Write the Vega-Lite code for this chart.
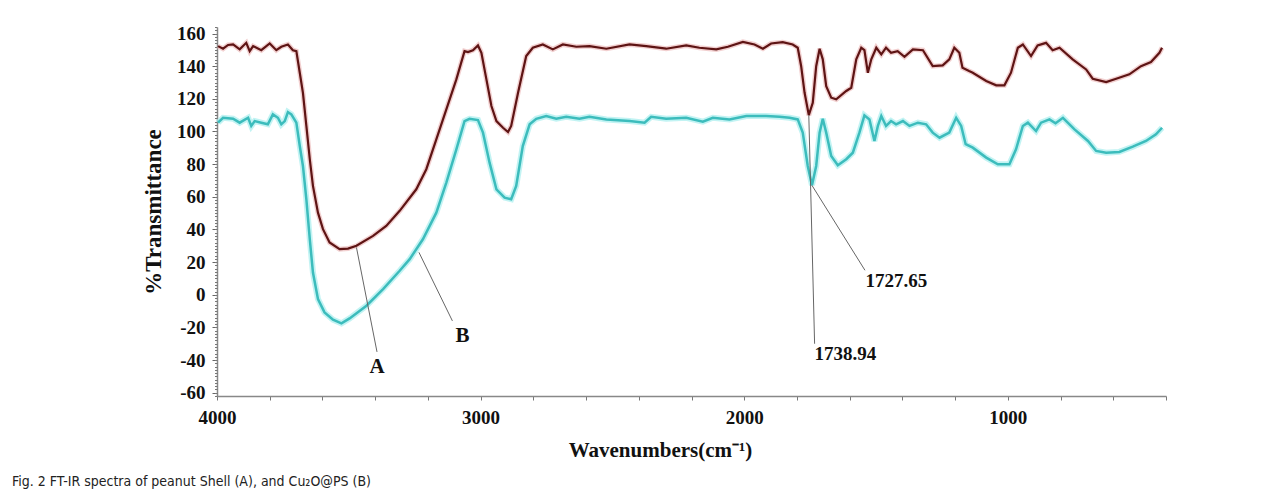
{
  "$schema": "https://vega.github.io/schema/vega-lite/v6.json",
  "width": 949,
  "height": 369,
  "autosize": {"type": "none"},
  "padding": {"left": 217, "top": 27, "right": 118, "bottom": 104},
  "background": "white",
  "config": {
    "view": {"stroke": null},
    "font": "Liberation Serif"
  },
  "title": {
    "text": "Fig. 2  FT-IR spectra of peanut Shell (A), and Cu₂O@PS (B)",
    "orient": "bottom",
    "anchor": "start",
    "frame": "group",
    "dx": -205,
    "offset": 15,
    "font": "DejaVu Sans Condensed, sans-serif",
    "fontSize": 14,
    "fontWeight": "normal",
    "color": "#222222"
  },
  "datasets": {
    "A": [
      {"wn": 3996, "t": 152.3}, {"wn": 3977, "t": 150.7}, {"wn": 3958, "t": 153}, {"wn": 3939, "t": 153.3},
      {"wn": 3914, "t": 150.3}, {"wn": 3889, "t": 154.3}, {"wn": 3876, "t": 149.2}, {"wn": 3863, "t": 152.3},
      {"wn": 3832, "t": 149.8}, {"wn": 3800, "t": 153.9}, {"wn": 3775, "t": 149.8}, {"wn": 3756, "t": 151.9},
      {"wn": 3731, "t": 153.3}, {"wn": 3712, "t": 149.8}, {"wn": 3699, "t": 149.2}, {"wn": 3686, "t": 136},
      {"wn": 3674, "t": 123.7}, {"wn": 3661, "t": 103.4}, {"wn": 3648, "t": 83}, {"wn": 3636, "t": 66.7},
      {"wn": 3617, "t": 50.3}, {"wn": 3598, "t": 40.2}, {"wn": 3573, "t": 32}, {"wn": 3535, "t": 27.9},
      {"wn": 3503, "t": 28.3}, {"wn": 3471, "t": 30}, {"wn": 3408, "t": 36.1}, {"wn": 3358, "t": 42.2},
      {"wn": 3307, "t": 51.4}, {"wn": 3244, "t": 64.6}, {"wn": 3206, "t": 76.9}, {"wn": 3168, "t": 95.2},
      {"wn": 3130, "t": 113.6}, {"wn": 3092, "t": 131.9}, {"wn": 3061, "t": 149.2}, {"wn": 3048, "t": 148.6},
      {"wn": 3029, "t": 149.8}, {"wn": 3010, "t": 152.7}, {"wn": 2997, "t": 148.2}, {"wn": 2978, "t": 131.9},
      {"wn": 2959, "t": 115.6}, {"wn": 2940, "t": 106.4}, {"wn": 2915, "t": 102.3}, {"wn": 2896, "t": 99.7},
      {"wn": 2884, "t": 103.4}, {"wn": 2858, "t": 123.7}, {"wn": 2827, "t": 146.2}, {"wn": 2802, "t": 151.3},
      {"wn": 2764, "t": 153.3}, {"wn": 2726, "t": 150.3}, {"wn": 2688, "t": 153.3}, {"wn": 2637, "t": 151.9},
      {"wn": 2587, "t": 152.3}, {"wn": 2523, "t": 150.7}, {"wn": 2435, "t": 153.3}, {"wn": 2372, "t": 152.3},
      {"wn": 2296, "t": 150.7}, {"wn": 2220, "t": 152.7}, {"wn": 2170, "t": 151.3}, {"wn": 2106, "t": 150.3},
      {"wn": 2062, "t": 151.9}, {"wn": 2005, "t": 154.9}, {"wn": 1961, "t": 153.3}, {"wn": 1929, "t": 150.7},
      {"wn": 1898, "t": 153.9}, {"wn": 1854, "t": 154.7}, {"wn": 1816, "t": 153.3}, {"wn": 1797, "t": 151.3},
      {"wn": 1784, "t": 140}, {"wn": 1771, "t": 123.7}, {"wn": 1755, "t": 110}, {"wn": 1740, "t": 117.6},
      {"wn": 1727, "t": 140}, {"wn": 1714, "t": 150.7}, {"wn": 1702, "t": 144.2}, {"wn": 1689, "t": 127.8},
      {"wn": 1670, "t": 120.7}, {"wn": 1651, "t": 119.7}, {"wn": 1613, "t": 124.8}, {"wn": 1594, "t": 126.8},
      {"wn": 1575, "t": 144.2}, {"wn": 1556, "t": 151.3}, {"wn": 1544, "t": 149.8}, {"wn": 1531, "t": 136},
      {"wn": 1518, "t": 144.2}, {"wn": 1499, "t": 151.3}, {"wn": 1480, "t": 147.2}, {"wn": 1462, "t": 151.3},
      {"wn": 1443, "t": 148.2}, {"wn": 1418, "t": 149.2}, {"wn": 1392, "t": 145.7}, {"wn": 1360, "t": 150.3},
      {"wn": 1322, "t": 149.8}, {"wn": 1285, "t": 140}, {"wn": 1247, "t": 140.5}, {"wn": 1222, "t": 144.2},
      {"wn": 1203, "t": 151.3}, {"wn": 1184, "t": 148.2}, {"wn": 1172, "t": 139}, {"wn": 1147, "t": 137},
      {"wn": 1133, "t": 136}, {"wn": 1082, "t": 130.9}, {"wn": 1044, "t": 128.3}, {"wn": 1013, "t": 128.3},
      {"wn": 988, "t": 136}, {"wn": 962, "t": 151.3}, {"wn": 943, "t": 153.3}, {"wn": 912, "t": 146.2},
      {"wn": 887, "t": 152.7}, {"wn": 855, "t": 154.3}, {"wn": 830, "t": 149.8}, {"wn": 804, "t": 151.3},
      {"wn": 754, "t": 144.2}, {"wn": 703, "t": 138}, {"wn": 678, "t": 132.3}, {"wn": 627, "t": 130.3},
      {"wn": 589, "t": 132.3}, {"wn": 539, "t": 135}, {"wn": 495, "t": 140}, {"wn": 457, "t": 142.5},
      {"wn": 425, "t": 148.2}, {"wn": 415, "t": 151.3}
    ],
    "B": [
      {"wn": 3996, "t": 105.4}, {"wn": 3977, "t": 108.4}, {"wn": 3939, "t": 107.8}, {"wn": 3914, "t": 105.4},
      {"wn": 3882, "t": 108.4}, {"wn": 3870, "t": 103.4}, {"wn": 3857, "t": 106.4}, {"wn": 3832, "t": 105.4},
      {"wn": 3807, "t": 104.4}, {"wn": 3788, "t": 110.5}, {"wn": 3769, "t": 108.4}, {"wn": 3756, "t": 104.4},
      {"wn": 3743, "t": 106.4}, {"wn": 3731, "t": 111.9}, {"wn": 3718, "t": 110.5}, {"wn": 3699, "t": 105.4},
      {"wn": 3686, "t": 91.1}, {"wn": 3674, "t": 78.9}, {"wn": 3661, "t": 58.5}, {"wn": 3648, "t": 34},
      {"wn": 3636, "t": 13.6}, {"wn": 3617, "t": -2.6}, {"wn": 3592, "t": -10.8}, {"wn": 3560, "t": -15.3},
      {"wn": 3528, "t": -17.5}, {"wn": 3497, "t": -14.5}, {"wn": 3433, "t": -6.7}, {"wn": 3370, "t": 3.5},
      {"wn": 3307, "t": 14.7}, {"wn": 3269, "t": 21.8}, {"wn": 3219, "t": 34}, {"wn": 3168, "t": 50.3},
      {"wn": 3130, "t": 68.7}, {"wn": 3092, "t": 89.1}, {"wn": 3061, "t": 106.4}, {"wn": 3042, "t": 107.8},
      {"wn": 3010, "t": 107}, {"wn": 2991, "t": 99.3}, {"wn": 2966, "t": 80.9}, {"wn": 2940, "t": 64.6},
      {"wn": 2909, "t": 59.5}, {"wn": 2884, "t": 58.5}, {"wn": 2865, "t": 66.7}, {"wn": 2840, "t": 91.1},
      {"wn": 2814, "t": 104.4}, {"wn": 2789, "t": 107.8}, {"wn": 2751, "t": 109.5}, {"wn": 2713, "t": 107.8},
      {"wn": 2675, "t": 109}, {"wn": 2625, "t": 107.8}, {"wn": 2587, "t": 109}, {"wn": 2523, "t": 107.4},
      {"wn": 2435, "t": 106.4}, {"wn": 2378, "t": 105.4}, {"wn": 2353, "t": 109}, {"wn": 2296, "t": 107.8},
      {"wn": 2220, "t": 108.4}, {"wn": 2157, "t": 106}, {"wn": 2119, "t": 108.4}, {"wn": 2056, "t": 107.4},
      {"wn": 1992, "t": 109.5}, {"wn": 1917, "t": 109.5}, {"wn": 1866, "t": 109}, {"wn": 1828, "t": 108.4},
      {"wn": 1797, "t": 107.4}, {"wn": 1778, "t": 99.3}, {"wn": 1759, "t": 78.9}, {"wn": 1743, "t": 67.1},
      {"wn": 1727, "t": 78.9}, {"wn": 1714, "t": 99.3}, {"wn": 1702, "t": 107.8}, {"wn": 1689, "t": 99.3},
      {"wn": 1670, "t": 85}, {"wn": 1645, "t": 79.3}, {"wn": 1613, "t": 83}, {"wn": 1588, "t": 87},
      {"wn": 1563, "t": 99.3}, {"wn": 1544, "t": 109.9}, {"wn": 1525, "t": 107.4}, {"wn": 1506, "t": 94.2},
      {"wn": 1493, "t": 103.4}, {"wn": 1480, "t": 109.5}, {"wn": 1462, "t": 103.4}, {"wn": 1443, "t": 106.4},
      {"wn": 1424, "t": 104.4}, {"wn": 1398, "t": 106.4}, {"wn": 1373, "t": 103.4}, {"wn": 1341, "t": 105.4},
      {"wn": 1310, "t": 104.4}, {"wn": 1285, "t": 99.3}, {"wn": 1259, "t": 96.2}, {"wn": 1222, "t": 99.3},
      {"wn": 1196, "t": 108.4}, {"wn": 1177, "t": 103.4}, {"wn": 1160, "t": 92.2}, {"wn": 1133, "t": 90.1},
      {"wn": 1082, "t": 84}, {"wn": 1038, "t": 79.9}, {"wn": 994, "t": 79.9}, {"wn": 969, "t": 89.1},
      {"wn": 943, "t": 103.4}, {"wn": 924, "t": 105.4}, {"wn": 893, "t": 100.3}, {"wn": 874, "t": 105.4},
      {"wn": 842, "t": 107.4}, {"wn": 819, "t": 105}, {"wn": 791, "t": 108.4}, {"wn": 747, "t": 101.3},
      {"wn": 696, "t": 94.2}, {"wn": 665, "t": 88.1}, {"wn": 627, "t": 87}, {"wn": 577, "t": 87.5},
      {"wn": 526, "t": 90.7}, {"wn": 476, "t": 94.2}, {"wn": 438, "t": 98.3}, {"wn": 415, "t": 102.3}
    ],
    "leaders": [
      {"wn": 3471, "t": 29, "wn2": 3393, "t2": -35},
      {"wn": 3234, "t": 26, "wn2": 3107, "t2": -16},
      {"wn": 1755, "t": 110, "wn2": 1733, "t2": -30},
      {"wn": 1743, "t": 67, "wn2": 1542, "t2": 15}
    ],
    "letters": [
      {"label": "A", "wn": 3393, "t": -44},
      {"label": "B", "wn": 3069, "t": -25}
    ],
    "peaks": [
      {"label": "1727.65", "wn": 1540, "t": 8.3},
      {"label": "1738.94", "wn": 1733, "t": -36}
    ]
  },
  "resolve": {"axis": {"y": "independent"}},
  "encoding": {
    "x": {
      "field": "wn", "type": "quantitative",
      "scale": {"domain": [4000, 400], "nice": false, "zero": false}
    }
  },
  "layer": [
    {
      "data": {"name": "A"},
      "mark": {"type": "line", "color": "#eab0b0", "strokeWidth": 5, "opacity": 0.6},
      "encoding": {
        "x": {
          "field": "wn", "type": "quantitative",
          "scale": {"domain": [4000, 400], "nice": false, "zero": false},
          "axis": {
            "values": [4000, 3800, 3600, 3400, 3200, 3000, 2800, 2600, 2400, 2200, 2000, 1800, 1600, 1400, 1200, 1000, 800, 600, 400],
            "labelExpr": "datum.value % 1000 === 0 ? '' + datum.value : ''",
            "labelOverlap": false,
            "labelFlush": false,
            "grid": false,
            "tickSize": 4,
            "tickColor": "#777777",
            "domainColor": "#888888",
            "domainWidth": 1.5,
            "labelFont": "Liberation Serif",
            "labelFontWeight": "bold",
            "labelFontSize": 19,
            "labelColor": "#111111",
            "labelPadding": 8,
            "title": "Wavenumbers(cm⁻¹)",
            "titleFont": "Liberation Serif",
            "titleFontWeight": "bold",
            "titleFontSize": 21,
            "titleColor": "#111111",
            "titlePadding": 12,
            "titleX": 443
          }
        },
        "y": {
          "field": "t", "type": "quantitative",
          "scale": {"domain": [-62, 164], "nice": false, "zero": false},
          "axis": {
            "orient": "left",
            "values": [-60, -40, -20, 0, 20, 40, 60, 80, 100, 120, 140, 160],
            "labelExpr": "'' + datum.value",
            "labelFlush": false,
            "labelOverlap": false,
            "grid": false,
            "tickSize": 5,
            "tickColor": "#666666",
            "domainColor": "#888888",
            "domainWidth": 1.5,
            "labelFont": "Liberation Serif",
            "labelFontWeight": "bold",
            "labelFontSize": 19,
            "labelColor": "#111111",
            "labelPadding": 7,
            "title": "%Transmittance",
            "titleFont": "Liberation Serif",
            "titleFontWeight": "bold",
            "titleFontSize": 23,
            "titleColor": "#111111",
            "titlePadding": 11
          }
        }
      }
    },
    {
      "data": {"name": "B"},
      "mark": {"type": "line", "color": "#a8eeee", "strokeWidth": 6, "opacity": 0.7},
      "encoding": {
        "x": {"field": "wn", "type": "quantitative"},
        "y": {
          "field": "t", "type": "quantitative",
          "axis": {
            "orient": "left",
            "values": [-62, -60, -58, -56, -54, -52, -50, -48, -46, -44, -42, -40, -38, -36, -34, -32, -30, -28, -26, -24, -22, -20, -18, -16, -14, -12, -10, -8, -6, -4, -2, 0, 2, 4, 6, 8, 10, 12, 14, 16, 18, 20, 22, 24, 26, 28, 30, 32, 34, 36, 38, 40, 42, 44, 46, 48, 50, 52, 54, 56, 58, 60, 62, 64, 66, 68, 70, 72, 74, 76, 78, 80, 82, 84, 86, 88, 90, 92, 94, 96, 98, 100, 102, 104, 106, 108, 110, 112, 114, 116, 118, 120, 122, 124, 126, 128, 130, 132, 134, 136, 138, 140, 142, 144, 146, 148, 150, 152, 154, 156, 158, 160, 162, 164],
            "labels": false,
            "domain": false,
            "grid": false,
            "tickSize": 2.5,
            "tickColor": "#777777",
            "title": null
          }
        }
      }
    },
    {
      "data": {"name": "A"},
      "mark": {"type": "line", "color": "#5e1414", "strokeWidth": 2.2},
      "encoding": {
        "x": {"field": "wn", "type": "quantitative"},
        "y": {"field": "t", "type": "quantitative", "axis": null}
      }
    },
    {
      "data": {"name": "B"},
      "mark": {"type": "line", "color": "#3cbcbc", "strokeWidth": 2.5},
      "encoding": {
        "x": {"field": "wn", "type": "quantitative"},
        "y": {"field": "t", "type": "quantitative", "axis": null}
      }
    },
    {
      "data": {"name": "leaders"},
      "mark": {"type": "rule", "color": "#666666", "strokeWidth": 1},
      "encoding": {
        "x": {"field": "wn", "type": "quantitative"},
        "y": {"field": "t", "type": "quantitative", "axis": null},
        "x2": {"field": "wn2"},
        "y2": {"field": "t2"}
      }
    },
    {
      "data": {"name": "letters"},
      "mark": {"type": "text", "font": "Liberation Serif", "fontWeight": "bold", "fontSize": 21, "color": "#111111", "align": "center", "baseline": "middle"},
      "encoding": {
        "x": {"field": "wn", "type": "quantitative"},
        "y": {"field": "t", "type": "quantitative", "axis": null},
        "text": {"field": "label"}
      }
    },
    {
      "data": {"name": "peaks"},
      "mark": {"type": "text", "font": "Liberation Serif", "fontWeight": "bold", "fontSize": 19, "color": "#111111", "align": "left", "baseline": "middle"},
      "encoding": {
        "x": {"field": "wn", "type": "quantitative"},
        "y": {"field": "t", "type": "quantitative", "axis": null},
        "text": {"field": "label"}
      }
    }
  ]
}
